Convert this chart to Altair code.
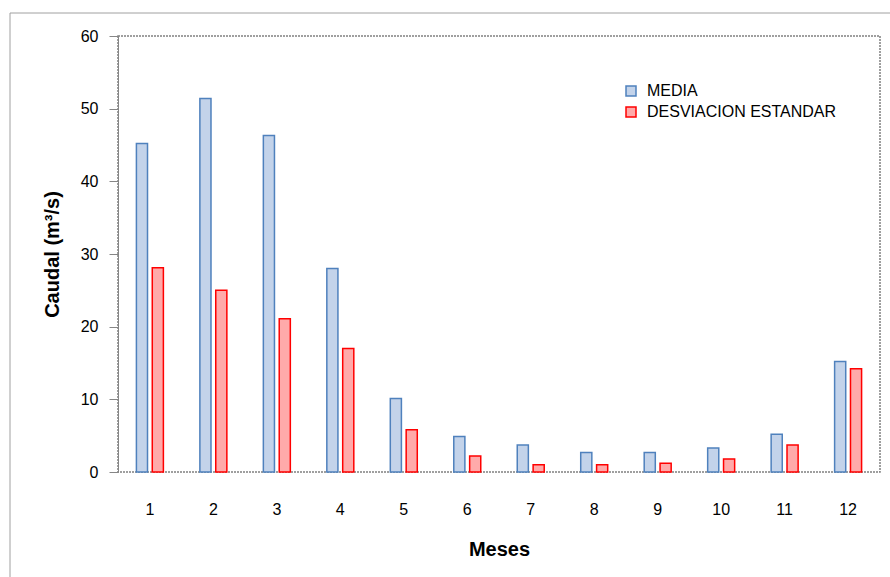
import altair as alt
import pandas as pd

meses = [1, 2, 3, 4, 5, 6, 7, 8, 9, 10, 11, 12]
media = [45.2, 51.4, 46.3, 28.0, 10.1, 4.9, 3.7, 2.7, 2.7, 3.3, 5.2, 15.2]
desviacion = [28.1, 25.0, 21.1, 17.0, 5.8, 2.2, 1.0, 1.0, 1.2, 1.8, 3.7, 14.2]
series = ["MEDIA", "DESVIACION ESTANDAR"]

rows = []
for m, a, b in zip(meses, media, desviacion):
    rows.append({"Mes": m, "Serie": series[0], "Caudal": a})
    rows.append({"Mes": m, "Serie": series[1], "Caudal": b})
df = pd.DataFrame(rows)

FONT = "Liberation Sans"

bars = alt.Chart(df).mark_bar(strokeWidth=1.5).encode(
    x=alt.X("Mes:O", title="Meses",
            scale=alt.Scale(paddingInner=0.575, paddingOuter=0.29),
            axis=alt.Axis(labelAngle=0, ticks=False, domain=False,
                          labelPadding=29, titlePadding=22,
                          labelFontSize=16, titleFontSize=20)),
    xOffset=alt.XOffset("Serie:N", sort=series,
                        scale=alt.Scale(paddingInner=0.3, paddingOuter=0)),
    y=alt.Y("Caudal:Q", title="Caudal (m³/s)",
            scale=alt.Scale(domain=[0, 60]),
            axis=alt.Axis(values=[0, 10, 20, 30, 40, 50, 60], grid=False,
                          tickSize=9, tickColor="#868686", domainColor="#868686",
                          labelPadding=11, titlePadding=18,
                          labelFontSize=16, titleFontSize=20)),
    fill=alt.Color("Serie:N", sort=series,
                   scale=alt.Scale(domain=series, range=["#c3d3ea", "#ffaaaa"]),
                   legend=alt.Legend(title=None, orient="none", legendX=505, legendY=47,
                                     symbolType="square", symbolSize=100,
                                     symbolStrokeWidth=1.5, labelFontSize=16,
                                     labelLimit=400, rowPadding=5, labelOffset=8)),
    stroke=alt.Stroke("Serie:N", sort=series,
                      scale=alt.Scale(domain=series, range=["#4f81bd", "#ff0000"]),
                      legend=None),
)

frame = alt.Chart(pd.DataFrame({"a": [0]})).mark_rect(
    fillOpacity=0, stroke="#a0a0a0", strokeWidth=1
).encode(
    x=alt.value(-108), x2=alt.value(800), y=alt.value(-23), y2=alt.value(600)
)

chart = alt.layer(frame, bars).properties(
    width=762, height=436,
    padding={"left": 118, "top": 36, "right": 10, "bottom": 105},
    autosize=alt.AutoSizeParams(type="none"),
).configure_view(
    stroke="#808080", strokeDash=[2, 1], strokeWidth=1.5
).configure_axis(
    labelFont=FONT, titleFont=FONT, labelColor="black", titleColor="black",
    titleFontWeight="bold"
).configure_legend(
    labelFont=FONT, labelColor="black"
)

chart.save("out.html", embed_options={"renderer": "svg", "actions": False})
